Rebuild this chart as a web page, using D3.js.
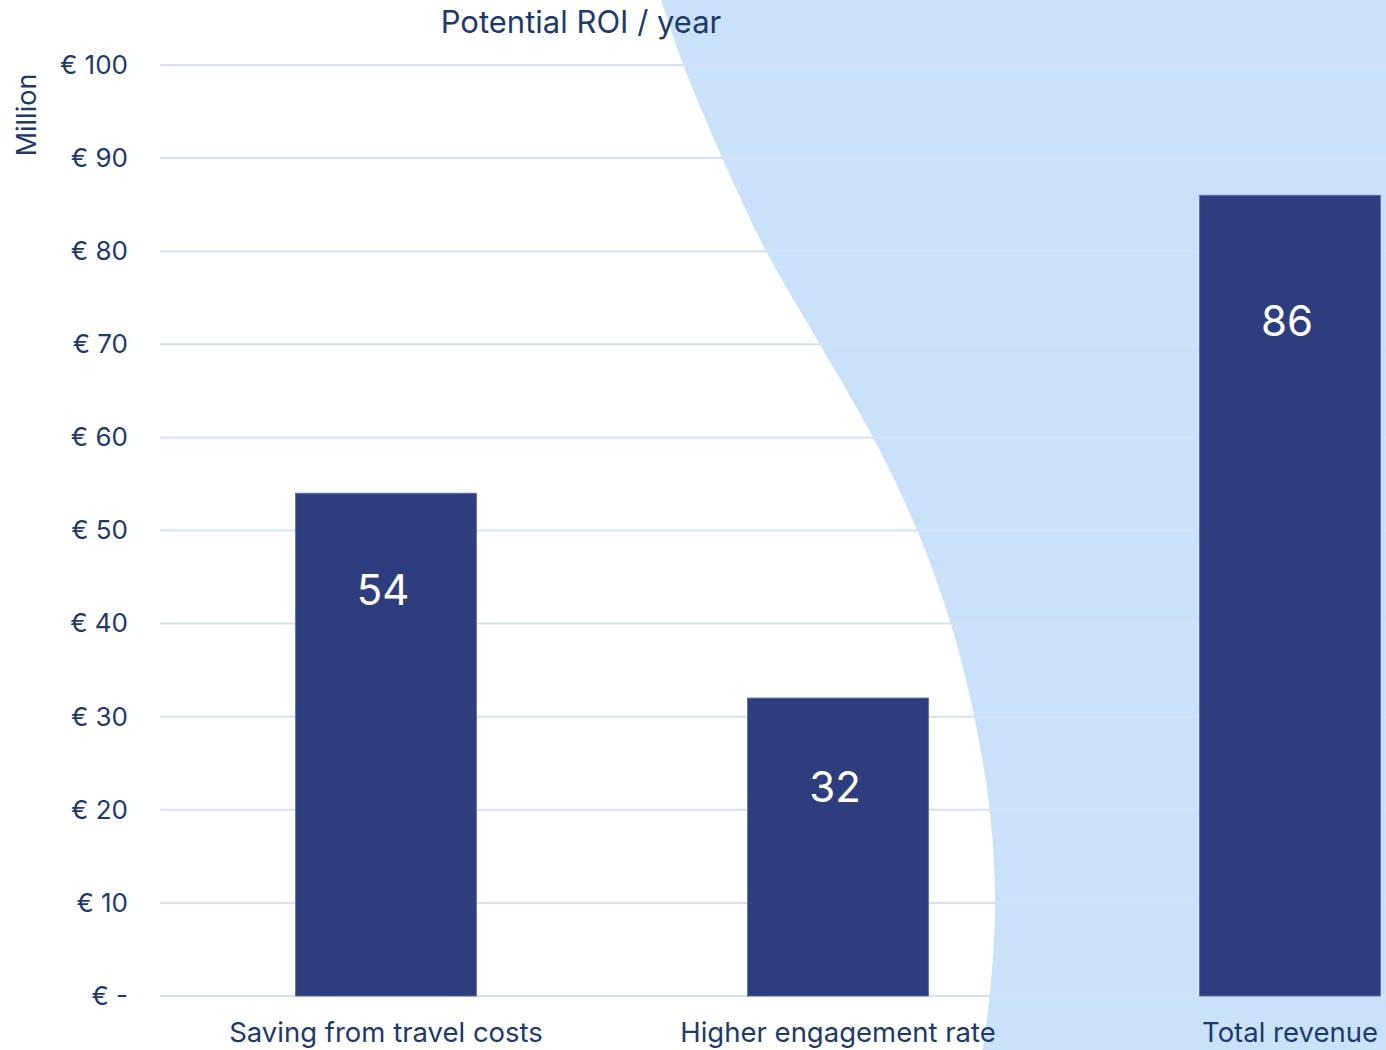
<!DOCTYPE html>
<html>
<head>
<meta charset="utf-8">
<script src="https://cdn.jsdelivr.net/npm/d3@7"></script>
<style>
  html, body { margin: 0; padding: 0; background: #fff; }
  svg { display: block; font-family: Inter, "Open Sans", sans-serif; }
</style>
</head>
<body>
<svg id="chart"></svg>
<script>
// Potential ROI bar chart with decorative wave on the right

const categories = ["Saving from travel costs", "Higher engagement rate", "Total revenue"];
const values = [54, 32, 86];
const tickValues = [0, 10, 20, 30, 40, 50, 60, 70, 80, 90, 100];

const WIDTH = 1386;
const HEIGHT = 1050;
const FONT = "Inter, \"Open Sans\", sans-serif";
const COLOR_BAR = "#2e3d7e";
const COLOR_TEXT = "#1d3a6b";
const COLOR_GRID = "#d3e1f4";
const COLOR_WAVE = "#c9e2fa";

const svg = d3.select("#chart")
  .attr("width", WIDTH)
  .attr("height", HEIGHT);

// Decorative wave (fractions of the canvas, not data)
const wavePts = [
  [0.477, 0], [0.493, 0.062], [0.521, 0.150], [0.553, 0.240],
  [0.592, 0.329], [0.630, 0.417], [0.662, 0.506], [0.686, 0.594],
  [0.703, 0.683], [0.714, 0.771], [0.718, 0.860], [0.714, 0.949], [0.709, 1.0]
].map((p) => [p[0] * WIDTH, p[1] * HEIGHT]);

const waveLine = d3.line().curve(d3.curveCatmullRom.alpha(0.5));
svg.append("path")
  .attr("d", waveLine(wavePts) + "L" + WIDTH + "," + HEIGHT + "L" + WIDTH + ",0Z")
  .attr("fill", COLOR_WAVE);

const y = d3.scaleLinear().domain([0, 100]).range([996, 65]);
const x = d3.scaleBand()
  .domain(categories)
  .range([160, 1516])
  .paddingInner(0.6)
  .paddingOuter(0.3);

// Gridlines
svg.append("g")
  .selectAll("line")
  .data(tickValues)
  .join("line")
  .attr("x1", 160)
  .attr("x2", WIDTH)
  .attr("y1", (d) => y(d))
  .attr("y2", (d) => y(d))
  .attr("stroke", COLOR_GRID)
  .attr("stroke-width", 2);

// Y axis labels
const yAxis = d3.axisLeft(y)
  .tickValues(tickValues)
  .tickSize(0)
  .tickPadding(0)
  .tickFormat((d) => d === 0 ? "€ -" : "€ " + d);

svg.append("g")
  .attr("transform", "translate(128,0)")
  .call(yAxis)
  .call((g) => g.select(".domain").remove())
  .selectAll("text")
  .attr("fill", COLOR_TEXT)
  .attr("font-size", "26px")
  .attr("font-family", FONT);

// Bars
svg.append("g")
  .selectAll("rect")
  .data(values)
  .join("rect")
  .attr("x", (d, i) => x(categories[i]))
  .attr("y", (d) => y(d))
  .attr("width", x.bandwidth())
  .attr("height", (d) => y(0) - y(d))
  .attr("fill", COLOR_BAR)
  .attr("stroke", "#5d6da3")
  .attr("stroke-width", 1);

// Value labels inside bars
const labelDrop = [97, 89, 126];
svg.append("g")
  .selectAll("text")
  .data(values)
  .join("text")
  .attr("x", (d, i) => x(categories[i]) + x.bandwidth() / 2 - 3)
  .attr("y", (d, i) => y(d) + labelDrop[i])
  .attr("dy", "0.35em")
  .attr("text-anchor", "middle")
  .attr("fill", "#fff")
  .attr("font-size", "42px")
  .text((d) => d);

// Category labels
const xAxis = d3.axisBottom(x).tickSize(0).tickPadding(0);
svg.append("g")
  .attr("transform", "translate(0,1032)")
  .call(xAxis)
  .call((g) => g.select(".domain").remove())
  .selectAll("text")
  .attr("dy", "0.35em")
  .attr("fill", COLOR_TEXT)
  .attr("font-size", "27.5px")
  .attr("font-family", FONT);

// Title
svg.append("text")
  .attr("x", 581)
  .attr("y", 22)
  .attr("dy", "0.35em")
  .attr("text-anchor", "middle")
  .attr("fill", COLOR_TEXT)
  .attr("font-size", "31px")
  .text("Potential ROI / year");

// Y axis title
svg.append("text")
  .attr("transform", "translate(27,115) rotate(-90)")
  .attr("dy", "0.35em")
  .attr("text-anchor", "middle")
  .attr("fill", COLOR_TEXT)
  .attr("font-size", "27px")
  .text("Million");
</script>
</body>
</html>
